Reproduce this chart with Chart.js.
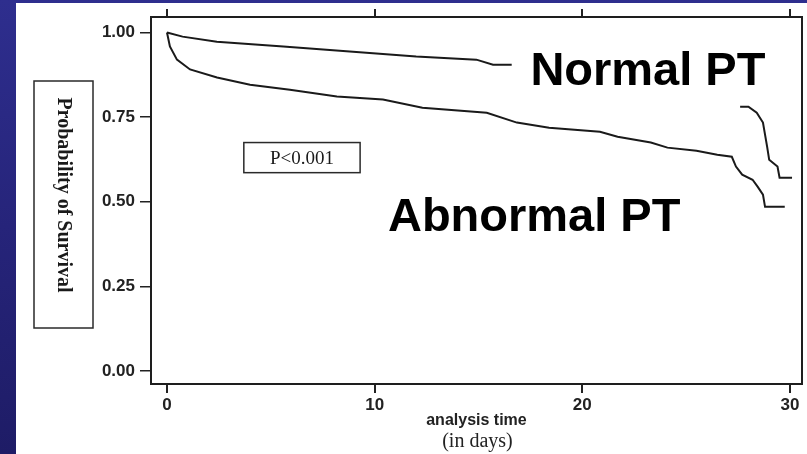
<!DOCTYPE html>
<html>
<head>
<meta charset="utf-8">
<script src="https://cdn.jsdelivr.net/npm/chart.js@4/dist/chart.umd.min.js"></script>
<style>
  html, body { margin: 0; padding: 0; }
  body {
    width: 807px; height: 454px; overflow: hidden; position: relative;
    background: linear-gradient(180deg, #2e2e8e 0%, #26247a 50%, #1e1c66 100%);
  }
  .panel { position: absolute; left: 16px; top: 3px; right: 0; bottom: 0; background: #fff; }
  #chart { position: absolute; left: 0; top: 0; }
</style>
</head>
<body>
<div class="panel"></div>
<canvas id="chart" width="807" height="454"></canvas>
<script>
// Kaplan-Meier curves (days, survival probability)
const normalDays = [0, 0.75, 2.4, 5.6, 8.8, 12.0, 14.9, 15.7, 16.6, 22, 27.6, 28.0, 28.4, 28.7, 28.9, 29.0, 29.4, 29.5, 30.1];
const normalSurv = [1.0, 0.988, 0.973, 0.959, 0.944, 0.929, 0.920, 0.905, 0.905, null, 0.781, 0.781, 0.763, 0.734, 0.663, 0.624, 0.604, 0.571, 0.571];

const abnormalDays = [0, 0.14, 0.48, 1.11, 2.41, 4.0, 5.92, 8.18, 10.4, 12.3, 15.4, 16.85, 18.4, 20.85, 21.7, 23.3, 24.1, 25.5, 26.5, 27.2, 27.4, 27.7, 28.2, 28.45, 28.7, 28.8, 29.75];
const abnormalSurv = [1.0, 0.959, 0.920, 0.891, 0.867, 0.846, 0.831, 0.811, 0.802, 0.778, 0.763, 0.734, 0.719, 0.707, 0.692, 0.675, 0.660, 0.651, 0.639, 0.633, 0.604, 0.580, 0.565, 0.544, 0.521, 0.485, 0.485];

// Axis ticks
const xTicks = [0, 10, 20, 30];
const yTicks = [0, 0.25, 0.5, 0.75, 1.0];

function toPoints(days, surv) {
    return days.map((d, i) => ({ x: d, y: surv[i] }));
}

// Frame, annotations and axis titles
const decorPlugin = {
    id: 'decor',
    afterDraw(chart) {
        const ctx = chart.ctx;
        const area = chart.chartArea;
        const xs = chart.scales.x;
        const ys = chart.scales.y;
        ctx.save();

        // plot frame
        ctx.strokeStyle = '#1e1e1e';
        ctx.lineWidth = 2;
        ctx.strokeRect(area.left, area.top, area.right - area.left, area.bottom - area.top);

        // y title in a box, reading top to bottom
        ctx.lineWidth = 1.5;
        ctx.strokeStyle = '#2a2a2a';
        ctx.strokeRect(34, 81, 59, 247);
        ctx.save();
        ctx.translate(63, 195);
        ctx.rotate(Math.PI / 2);
        ctx.fillStyle = '#1a1a1a';
        ctx.font = 'bold 20px "Liberation Serif", "Times New Roman", serif';
        ctx.textAlign = 'center';
        ctx.textBaseline = 'middle';
        ctx.fillText('Probability of Survival', 0, 0);
        ctx.restore();

        // P value box
        const bx1 = xs.getPixelForValue(3.7), bx2 = xs.getPixelForValue(9.3);
        const by1 = ys.getPixelForValue(0.675), by2 = ys.getPixelForValue(0.586);
        ctx.strokeRect(bx1, by1, bx2 - bx1, by2 - by1);
        ctx.fillStyle = '#1a1a1a';
        ctx.font = '19px "Liberation Serif", "Times New Roman", serif';
        ctx.textAlign = 'center';
        ctx.textBaseline = 'middle';
        ctx.fillText('P<0.001', (bx1 + bx2) / 2, (by1 + by2) / 2 + 1);

        // series labels
        ctx.fillStyle = '#000';
        ctx.font = 'bold 47px "Liberation Sans", Arial, sans-serif';
        ctx.textAlign = 'left';
        ctx.textBaseline = 'alphabetic';
        ctx.fillText('Normal PT', xs.getPixelForValue(17.5), ys.getPixelForValue(0.846));
        ctx.fillText('Abnormal PT', xs.getPixelForValue(10.64), ys.getPixelForValue(0.414));

        // x titles
        const cx = xs.getPixelForValue(15);
        ctx.fillStyle = '#222';
        ctx.textAlign = 'center';
        ctx.textBaseline = 'middle';
        ctx.font = 'bold 16px "Liberation Sans", Arial, sans-serif';
        ctx.fillText('analysis time', cx - 2, 421);
        ctx.font = '20px "Liberation Serif", "Times New Roman", serif';
        ctx.fillText('(in days)', cx - 1, 442);

        ctx.restore();
    }
};

const ctx = document.getElementById('chart').getContext('2d');
const chart = new Chart(ctx, {
    type: 'line',
    data: {
        datasets: [
            {
                label: 'Normal PT',
                data: toPoints(normalDays, normalSurv),
                borderColor: '#1a1a1a',
                borderWidth: 2,
                pointRadius: 0,
                spanGaps: false,
                tension: 0
            },
            {
                label: 'Abnormal PT',
                data: toPoints(abnormalDays, abnormalSurv),
                borderColor: '#1a1a1a',
                borderWidth: 2,
                pointRadius: 0,
                tension: 0
            }
        ]
    },
    options: {
        responsive: false,
        animation: false,
        devicePixelRatio: 1,
        layout: { padding: { left: 0, right: 5, top: 17, bottom: 0 } },
        plugins: {
            legend: { display: false },
            tooltip: { enabled: false }
        },
        scales: {
            x: {
                type: 'linear',
                position: 'bottom',
                min: -0.77,
                max: 30.58,
                afterBuildTicks: (scale) => { scale.ticks = xTicks.map(v => ({ value: v })); },
                afterFit: (scale) => { scale.height = 70; },
                border: { display: false },
                grid: { drawOnChartArea: false, drawTicks: true, tickLength: 9, color: '#222', lineWidth: 2 },
                ticks: {
                    padding: 2,
                    color: '#222',
                    font: { family: '"Liberation Sans", Arial, sans-serif', size: 17, weight: 'bold' },
                    maxRotation: 0
                }
            },
            x2: {
                type: 'linear',
                position: 'top',
                min: -0.77,
                max: 30.58,
                afterBuildTicks: (scale) => { scale.ticks = xTicks.map(v => ({ value: v })); },
                afterFit: (scale) => { scale.height = 0; },
                border: { display: false },
                grid: { drawOnChartArea: false, drawTicks: true, tickLength: 8, color: '#222', lineWidth: 2 },
                ticks: { display: false }
            },
            y: {
                type: 'linear',
                min: -0.0385,
                max: 1.046,
                afterBuildTicks: (scale) => { scale.ticks = yTicks.map(v => ({ value: v })); },
                afterFit: (scale) => { scale.width = 151; },
                border: { display: false },
                grid: { drawOnChartArea: false, drawTicks: true, tickLength: 11, color: '#222', lineWidth: 1.5 },
                ticks: {
                    padding: 5,
                    color: '#222',
                    font: { family: '"Liberation Sans", Arial, sans-serif', size: 17, weight: 'bold' },
                    callback: (v) => v.toFixed(2)
                }
            }
        }
    },
    plugins: [decorPlugin]
});
</script>
</body>
</html>
